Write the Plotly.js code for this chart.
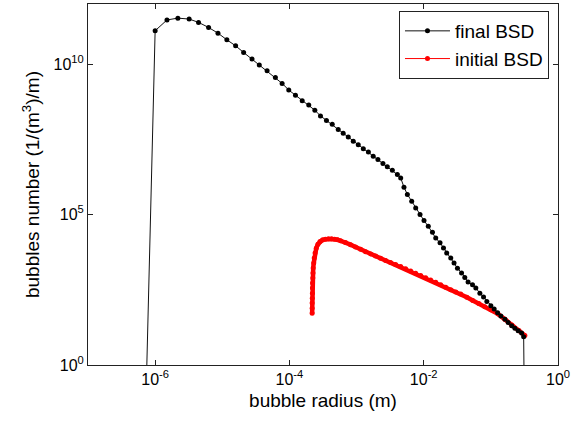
<!DOCTYPE html>
<html>
<head>
<meta charset="utf-8">
<script src="https://cdn.plot.ly/plotly-3.0.1.min.js"></script>
<style>html,body{margin:0;padding:0;background:#fff;}#chart{width:573px;height:426px;}</style>
</head>
<body>
<div id="chart"></div>
<script>
// final BSD (black)
var finalRadius = [7.33e-7, 1.00e-6, 1.50e-6, 2.18e-6, 3.21e-6, 4.43e-6, 6.25e-6, 8.63e-6,
  1.17e-5, 1.58e-5, 2.08e-5, 2.77e-5, 3.56e-5, 4.65e-5, 6.18e-5, 7.78e-5, 9.77e-5,
  1.23e-4, 1.55e-4, 1.94e-4, 2.39e-4, 2.90e-4, 3.56e-4, 4.34e-4, 5.33e-4, 6.32e-4, 7.52e-4, 8.93e-4,
  1.06e-3, 1.26e-3, 1.50e-3, 1.77e-3, 2.08e-3, 2.47e-3, 2.87e-3, 3.41e-3, 4.05e-3, 4.54e-3,
  5.08e-3, 5.71e-3, 6.62e-3, 7.60e-3, 8.81e-3, 1.01e-2, 1.17e-2, 1.35e-2, 1.51e-2, 1.75e-2,
  1.97e-2, 2.20e-2, 2.53e-2, 2.83e-2, 3.18e-2, 3.66e-2, 4.09e-2, 4.58e-2, 5.33e-2, 5.97e-2,
  6.86e-2, 7.78e-2, 8.71e-2, 0.100, 0.112, 0.126, 0.141, 0.162, 0.181, 0.204, 0.228, 0.255,
  0.287, 0.308, 0.314];
var finalNumber = [0.1, 1.29e11, 2.95e11, 3.39e11, 3.16e11, 2.45e11, 1.66e11, 1.07e11,
  6.46e10, 4.07e10, 2.45e10, 1.48e10, 9.33e9, 6.03e9, 3.63e9, 2.29e9, 1.38e9,
  9.33e8, 6.03e8, 4.37e8, 2.95e8, 1.91e8, 1.35e8, 1.00e8, 6.76e7, 5.01e7, 3.80e7, 2.75e7,
  2.09e7, 1.55e7, 1.20e7, 8.71e6, 6.76e6, 5.01e6, 3.89e6, 2.95e6, 2.14e6, 1.66e6,
  8.13e5, 4.68e5, 2.75e5, 1.66e5, 1.00e5, 6.31e4, 4.07e4, 2.57e4, 1.66e4, 1.15e4,
  7760, 5250, 3630, 2450, 1660, 1150, 813, 575, 468, 363,
  245, 182, 129, 93.3, 72.4, 55.0, 42.7, 33.1, 25.7, 20.0, 16.6, 13.8,
  11.5, 8.71, 0.1];

// initial BSD (red)
var initialRadius = [2.18e-4, 2.18e-4, 2.18e-4, 2.19e-4, 2.20e-4, 2.20e-4, 2.21e-4, 2.23e-4,
  2.24e-4, 2.26e-4, 2.30e-4, 2.34e-4, 2.41e-4, 2.51e-4, 2.66e-4, 2.85e-4, 3.11e-4, 3.44e-4,
  3.82e-4, 4.24e-4, 4.70e-4, 5.20e-4, 5.77e-4, 6.85e-4, 8.13e-4, 9.66e-4, 1.15e-3, 1.36e-3,
  1.62e-3, 1.92e-3, 2.28e-3, 2.71e-3, 3.21e-3, 3.82e-3, 4.54e-3, 5.38e-3, 6.40e-3, 7.60e-3,
  9.02e-3, 1.07e-2, 1.27e-2, 1.51e-2, 1.79e-2, 2.13e-2, 2.53e-2, 3.01e-2, 3.56e-2, 4.39e-2,
  5.38e-2, 6.62e-2, 8.13e-2, 0.100, 0.127, 0.162, 0.206, 0.262, 0.321];
var initialNumber = [52.8, 77.6, 114, 167, 245, 361, 528, 776,
  1140, 1671, 2455, 3606, 5284, 7640, 1.04e4, 1.28e4, 1.44e4, 1.52e4,
  1.56e4, 1.56e4, 1.52e4, 1.46e4, 1.36e4, 1.18e4, 1.00e4, 8380, 7030, 5850,
  4930, 4170, 3520, 3000, 2550, 2190, 1880, 1585, 1330, 1120,
  940, 794, 671, 562, 465, 383, 316, 267, 228, 178,
  139, 110, 85.7, 68.1, 50.1, 32.9, 21.5, 14.1, 9.62];

var xTickVals = [1e-6, 1e-4, 1e-2, 1];
var xTickText = ['10<sup>-6</sup>', '10<sup>-4</sup>', '10<sup>-2</sup>', '10<sup>0</sup>'];
var yTickVals = [1, 1e5, 1e10];
var yTickText = ['10<sup>0</sup>', '10<sup>5</sup>', '10<sup>10</sup>'];

var FONT = 'Liberation Sans, Arial, Helvetica, sans-serif';

var traces = [
  {
    // dense marker band of the initial distribution (no legend entry)
    x: initialRadius, y: initialNumber, name: 'initial BSD', type: 'scatter', mode: 'lines',
    line: {color: '#ff0000', width: 4.5},
    showlegend: false, cliponaxis: true
  },
  {
    x: initialRadius, y: initialNumber, name: 'initial BSD', type: 'scatter', mode: 'lines+markers',
    line: {color: '#ff0000', width: 1},
    marker: {color: '#ff0000', size: 5, symbol: 'circle'},
    legendrank: 2, cliponaxis: true
  },
  {
    x: finalRadius, y: finalNumber, name: 'final BSD', type: 'scatter', mode: 'lines+markers',
    line: {color: '#111111', width: 1},
    marker: {color: '#000000', size: 5, symbol: 'circle'},
    legendrank: 1, cliponaxis: true
  }
];

var axisCommon = {
  type: 'log', showgrid: false, zeroline: false, showline: true, linecolor: '#222', linewidth: 1,
  mirror: 'ticks', ticks: 'inside', ticklen: 5, tickwidth: 1, tickcolor: '#222',
  tickmode: 'array', tickfont: {family: FONT, size: 16, color: '#000'}
};

var layout = {
  width: 573, height: 426,
  margin: {l: 88, r: 15, t: 4, b: 61},
  paper_bgcolor: '#ffffff', plot_bgcolor: '#ffffff',
  font: {family: FONT, color: '#000'},
  showlegend: true,
  xaxis: Object.assign({}, axisCommon, {
    range: [-7, 0], tickvals: xTickVals, ticktext: xTickText,
    title: {text: 'bubble radius (m)', font: {family: FONT, size: 19, color: '#000'}, standoff: 6}
  }),
  yaxis: Object.assign({}, axisCommon, {
    range: [0, 12], tickvals: yTickVals, ticktext: yTickText,
    title: {text: 'bubbles number (1/(m<sup>3</sup>)/m)', font: {family: FONT, size: 19, color: '#000'}, standoff: 8}
  }),
  legend: {
    x: 0.6617, y: 0.9806, xanchor: 'left', yanchor: 'top',
    bgcolor: '#ffffff', bordercolor: '#222', borderwidth: 1,
    font: {family: FONT, size: 19, color: '#000'},
    itemwidth: 45, tracegroupgap: 0
  }
};

Plotly.newPlot('chart', traces, layout, {staticPlot: true, displayModeBar: false});
</script>
</body>
</html>
